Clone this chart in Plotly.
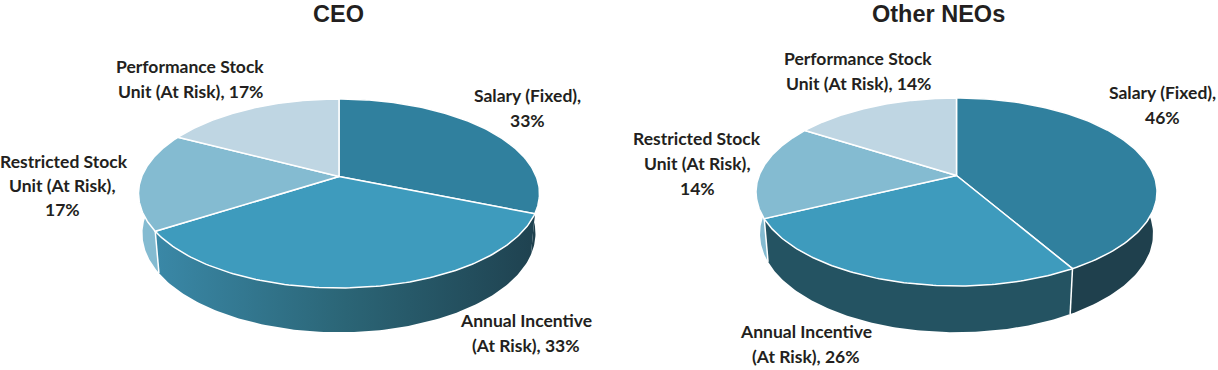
import numpy as np
import plotly.graph_objects as go

# Data ------------------------------------------------------------------
categories = ["Salary (Fixed)", "Annual Incentive", "Restricted Stock Unit", "Performance Stock Unit"]
ceo_labels_pct = [33, 33, 17, 17]
neo_labels_pct = [46, 26, 14, 14]
# slice sizes as actually drawn in the picture
ceo_drawn = [31.2, 34.7, 16.8, 17.3]
neo_drawn = [41.7, 26.1, 16.3, 15.9]

top_colors = ["#30809e", "#3e9bbd", "#84bbd1", "#bfd6e3"]
ceo_wall = {0: ["#1f404d", "#1f404d"], 1: ["#3a88a7", "#2b6576", "#1f4250"], 2: ["#84bbd1", "#84bbd1"]}
neo_wall = {0: ["#1f404d", "#1f404d"], 1: ["#245362", "#245362"], 2: ["#84bbd1", "#84bbd1"]}

W, H = 1218, 370
fig = go.Figure()


def pie3d(name, shares, walls, joints, cx, cy, up, down, rx, depth):
    k = (down - up) / (down + up)
    a = up * (1 + k)
    b = rx * np.sqrt(1 - k * k)
    yc = cy + (down - up) / 2

    def rim(th):
        u, v = np.sin(th), np.cos(th)
        return cx + b * u / (1 + k * v), cy - a * v / (1 + k * v)

    def lower(x, y):
        return cx + 0.98 * (x - cx), y + depth + 0.045 * (y - yc)

    edges = np.radians(np.concatenate([[0], np.cumsum(shares)]) * 360 / np.sum(shares))
    # side walls first, then the top faces over them
    for i, stops in walls.items():
        th = np.linspace(edges[i], edges[i + 1], 120)
        x, y = rim(th)
        xl, yl = lower(x, y)
        px = np.concatenate([x, xl[::-1], x[:1]])
        py = np.concatenate([y, yl[::-1], y[:1]])
        n = len(stops) - 1
        fig.add_trace(go.Scatter(
            x=px, y=py, mode="lines", fill="toself",
            line=dict(color="rgba(0,0,0,0)", width=0),
            fillgradient=dict(type="horizontal",
                              colorscale=[[j / n, c] for j, c in enumerate(stops)]),
            hoverinfo="skip", showlegend=False, name=name))
    # white joints on the wall
    for i in joints:
        x, y = rim(np.array([edges[i]]))
        xl, yl = lower(x, y)
        fig.add_trace(go.Scatter(x=[x[0], xl[0]], y=[y[0], yl[0]], mode="lines",
                                 line=dict(color="white", width=1.5),
                                 hoverinfo="skip", showlegend=False))
    for i in range(len(shares)):
        th = np.linspace(edges[i], edges[i + 1], 120)
        x, y = rim(th)
        fig.add_trace(go.Scatter(
            x=np.concatenate([[cx], x, [cx]]), y=np.concatenate([[cy], y, [cy]]),
            mode="lines", fill="toself", fillcolor=top_colors[i],
            line=dict(color="white", width=1.5),
            text=f"{categories[i]}", hoverinfo="text", showlegend=False, name=name))


pie3d("CEO", ceo_drawn, ceo_wall, (2,), 339, 176.5, 77.5, 111.5, 200.5, 40)
pie3d("Other NEOs", neo_drawn, neo_wall, (1, 2), 956.5, 175.5, 77.5, 110.5, 200.5, 42)

labels = [
    ("Performance Stock", 190, 66), (f"Unit (At Risk), {ceo_labels_pct[3]}%", 190, 91),
    ("Salary (Fixed),", 527, 95), (f"{ceo_labels_pct[0]}%", 527, 120),
    ("Restricted Stock", 64, 161), ("Unit (At Risk),", 62, 185), (f"{ceo_labels_pct[2]}%", 62, 209),
    ("Annual Incentive", 526, 320), (f"(At Risk), {ceo_labels_pct[1]}%", 526, 345),
    ("Performance Stock", 858, 58), (f"Unit (At Risk), {neo_labels_pct[3]}%", 858, 83),
    ("Salary (Fixed),", 1162, 92), (f"{neo_labels_pct[0]}%", 1162, 117),
    ("Restricted Stock", 697, 138), ("Unit (At Risk),", 697, 163), (f"{neo_labels_pct[2]}%", 697, 188),
    ("Annual Incentive", 806, 331), (f"(At Risk), {neo_labels_pct[1]}%", 806, 356),
]
for t, x, y in labels:
    fig.add_annotation(x=x, y=y, text=t, showarrow=False, xanchor="center", yanchor="middle",
                       font=dict(family="Lato", size=17.5, color="#231f20", weight=700))
for t, x in [("CEO", 338), ("Other NEOs", 938)]:
    fig.add_annotation(x=x, y=14, text=t, showarrow=False, xanchor="center", yanchor="middle",
                       font=dict(family="Liberation Sans", size=23.5, color="#231f20", weight=700))

fig.update_layout(
    width=W, height=H, margin=dict(l=0, r=0, t=0, b=0),
    paper_bgcolor="white", plot_bgcolor="white", showlegend=False,
    xaxis=dict(range=[0, W], visible=False, fixedrange=True),
    yaxis=dict(range=[H, 0], visible=False, fixedrange=True),
)
fig.write_html("out.html", config=dict(displayModeBar=False),
               post_script="document.body.style.margin='0';document.body.style.overflow='hidden';")
